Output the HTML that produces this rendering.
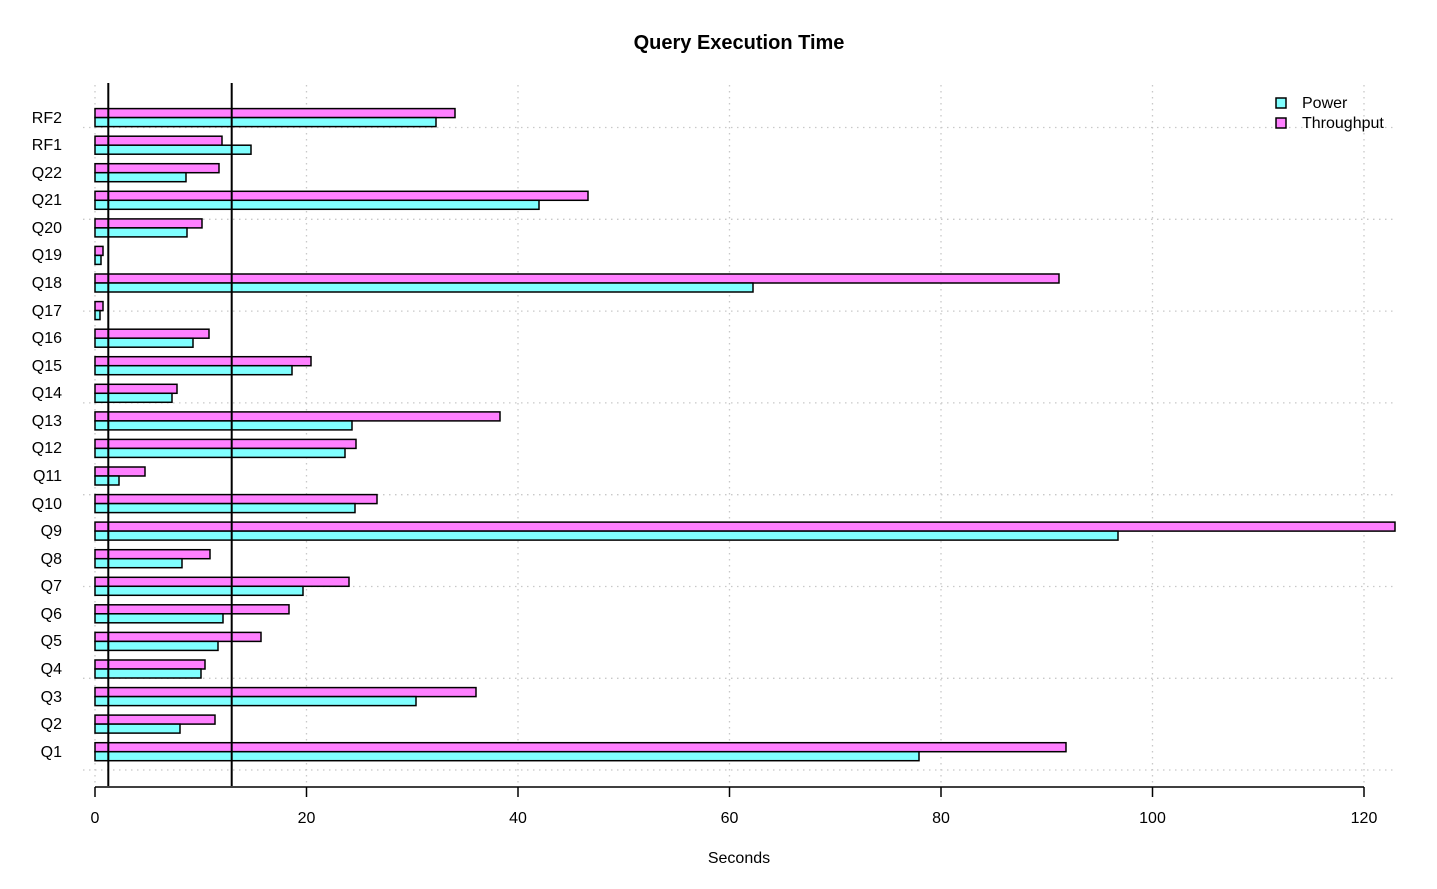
<!DOCTYPE html>
<html><head><meta charset="utf-8"><style>body{margin:0;background:#fff}svg{display:block}text{font-family:"Liberation Sans",sans-serif}</style></head><body>
<svg width="1437" height="889" xmlns="http://www.w3.org/2000/svg">
<text x="739" y="49" font-size="20" font-weight="bold" text-anchor="middle">Query Execution Time</text>
<g stroke="#c8c8c8" stroke-dasharray="1.5,4.5" stroke-width="1.3">
<line x1="95" y1="85" x2="95" y2="786"/><line x1="306.5" y1="85" x2="306.5" y2="786"/><line x1="518" y1="85" x2="518" y2="786"/><line x1="729.5" y1="85" x2="729.5" y2="786"/><line x1="941" y1="85" x2="941" y2="786"/><line x1="1152.5" y1="85" x2="1152.5" y2="786"/><line x1="1364" y1="85" x2="1364" y2="786"/>
<line x1="83" y1="127.5" x2="1397" y2="127.5"/><line x1="83" y1="219.3" x2="1397" y2="219.3"/><line x1="83" y1="311.1" x2="1397" y2="311.1"/><line x1="83" y1="402.9" x2="1397" y2="402.9"/><line x1="83" y1="494.7" x2="1397" y2="494.7"/><line x1="83" y1="586.5" x2="1397" y2="586.5"/><line x1="83" y1="678.3" x2="1397" y2="678.3"/><line x1="83" y1="770" x2="1397" y2="770"/>
</g>
<g stroke="#000" stroke-width="1.5">
<rect x="95" y="742.7" width="971" height="9" fill="#ff80ff"/><rect x="95" y="751.7" width="824" height="9" fill="#80ffff"/>
<rect x="95" y="715.1" width="120" height="9" fill="#ff80ff"/><rect x="95" y="724.1" width="85" height="9" fill="#80ffff"/>
<rect x="95" y="687.6" width="381" height="9" fill="#ff80ff"/><rect x="95" y="696.6" width="321" height="9" fill="#80ffff"/>
<rect x="95" y="660.0" width="110" height="9" fill="#ff80ff"/><rect x="95" y="669.0" width="106" height="9" fill="#80ffff"/>
<rect x="95" y="632.4" width="166" height="9" fill="#ff80ff"/><rect x="95" y="641.4" width="123" height="9" fill="#80ffff"/>
<rect x="95" y="604.8" width="194" height="9" fill="#ff80ff"/><rect x="95" y="613.8" width="128" height="9" fill="#80ffff"/>
<rect x="95" y="577.3" width="254" height="9" fill="#ff80ff"/><rect x="95" y="586.3" width="208" height="9" fill="#80ffff"/>
<rect x="95" y="549.7" width="115" height="9" fill="#ff80ff"/><rect x="95" y="558.7" width="87" height="9" fill="#80ffff"/>
<rect x="95" y="522.1" width="1300" height="9" fill="#ff80ff"/><rect x="95" y="531.1" width="1023" height="9" fill="#80ffff"/>
<rect x="95" y="494.6" width="282" height="9" fill="#ff80ff"/><rect x="95" y="503.6" width="260" height="9" fill="#80ffff"/>
<rect x="95" y="467.0" width="50" height="9" fill="#ff80ff"/><rect x="95" y="476.0" width="24" height="9" fill="#80ffff"/>
<rect x="95" y="439.4" width="261" height="9" fill="#ff80ff"/><rect x="95" y="448.4" width="250" height="9" fill="#80ffff"/>
<rect x="95" y="411.9" width="405" height="9" fill="#ff80ff"/><rect x="95" y="420.9" width="257" height="9" fill="#80ffff"/>
<rect x="95" y="384.3" width="82" height="9" fill="#ff80ff"/><rect x="95" y="393.3" width="77" height="9" fill="#80ffff"/>
<rect x="95" y="356.7" width="216" height="9" fill="#ff80ff"/><rect x="95" y="365.7" width="197" height="9" fill="#80ffff"/>
<rect x="95" y="329.2" width="114" height="9" fill="#ff80ff"/><rect x="95" y="338.2" width="98" height="9" fill="#80ffff"/>
<rect x="95" y="301.6" width="8" height="9" fill="#ff80ff"/><rect x="95" y="310.6" width="5" height="9" fill="#80ffff"/>
<rect x="95" y="274.0" width="964" height="9" fill="#ff80ff"/><rect x="95" y="283.0" width="658" height="9" fill="#80ffff"/>
<rect x="95" y="246.4" width="8" height="9" fill="#ff80ff"/><rect x="95" y="255.4" width="6" height="9" fill="#80ffff"/>
<rect x="95" y="218.9" width="107" height="9" fill="#ff80ff"/><rect x="95" y="227.9" width="92" height="9" fill="#80ffff"/>
<rect x="95" y="191.3" width="493" height="9" fill="#ff80ff"/><rect x="95" y="200.3" width="444" height="9" fill="#80ffff"/>
<rect x="95" y="163.7" width="124" height="9" fill="#ff80ff"/><rect x="95" y="172.7" width="91" height="9" fill="#80ffff"/>
<rect x="95" y="136.2" width="127" height="9" fill="#ff80ff"/><rect x="95" y="145.2" width="156" height="9" fill="#80ffff"/>
<rect x="95" y="108.6" width="360" height="9" fill="#ff80ff"/><rect x="95" y="117.6" width="341" height="9" fill="#80ffff"/>
</g>
<g stroke="#000" stroke-width="2"><line x1="108.3" y1="83" x2="108.3" y2="786"/><line x1="231.7" y1="83" x2="231.7" y2="786"/></g>
<g stroke="#000" stroke-width="1.5" fill="none">
<line x1="95" y1="787" x2="1364" y2="787"/>
<line x1="95" y1="787" x2="95" y2="797"/><line x1="306.5" y1="787" x2="306.5" y2="797"/><line x1="518" y1="787" x2="518" y2="797"/><line x1="729.5" y1="787" x2="729.5" y2="797"/><line x1="941" y1="787" x2="941" y2="797"/><line x1="1152.5" y1="787" x2="1152.5" y2="797"/><line x1="1364" y1="787" x2="1364" y2="797"/>
</g>
<g font-size="16" text-anchor="middle">
<text x="95" y="823">0</text><text x="306.5" y="823">20</text><text x="518" y="823">40</text><text x="729.5" y="823">60</text><text x="941" y="823">80</text><text x="1152.5" y="823">100</text><text x="1364" y="823">120</text>
<text x="739" y="863">Seconds</text>
</g>
<g font-size="16" text-anchor="end">
<text x="62" y="757">Q1</text><text x="62" y="729">Q2</text><text x="62" y="702">Q3</text><text x="62" y="674">Q4</text><text x="62" y="646">Q5</text><text x="62" y="619">Q6</text><text x="62" y="591">Q7</text><text x="62" y="564">Q8</text><text x="62" y="536">Q9</text><text x="62" y="509">Q10</text><text x="62" y="481">Q11</text><text x="62" y="453">Q12</text><text x="62" y="426">Q13</text><text x="62" y="398">Q14</text><text x="62" y="371">Q15</text><text x="62" y="343">Q16</text><text x="62" y="316">Q17</text><text x="62" y="288">Q18</text><text x="62" y="260">Q19</text><text x="62" y="233">Q20</text><text x="62" y="205">Q21</text><text x="62" y="178">Q22</text><text x="62" y="150">RF1</text><text x="62" y="123">RF2</text>
</g>
<rect x="1276" y="98" width="10" height="10" fill="#80ffff" stroke="#000" stroke-width="1.5"/>
<rect x="1276" y="118" width="10" height="10" fill="#ff80ff" stroke="#000" stroke-width="1.5"/>
<text x="1302" y="108" font-size="16">Power</text>
<text x="1302" y="128" font-size="16">Throughput</text>
</svg>
</body></html>
